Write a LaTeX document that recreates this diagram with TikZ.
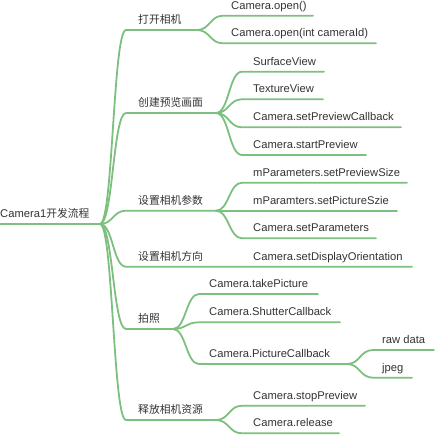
\documentclass[tikz,border=0pt]{standalone}
\usepackage{fontspec}
\setmainfont{Liberation Sans}
\newfontfamily\cjk{Noto Sans CJK SC}
\usetikzlibrary{calc}
\definecolor{branch}{HTML}{7CC07F}
\definecolor{ink}{HTML}{333333}
\newcommand\brn[2]{\draw[ln] (#1) .. controls ($(#1)+(13,0)$) and ($(#1 |- #2)+(13,0)$) .. ($(#1 |- #2)+(26,0)$) -- (#2);}
\begin{document}
\begin{tikzpicture}[x=1pt,y=-1pt,
  ln/.style={draw=branch,line width=1.8pt,line cap=round},
  lbl/.style={anchor=base west,inner sep=0pt,text=ink,font=\fontsize{11.2}{13}\selectfont},
  zh/.style={lbl,font=\cjk\fontsize{10.8}{13}\selectfont}]
\useasboundingbox (0,0) rectangle (445,448);
% root
\node[lbl] (root) at (0,217) {Camera1{\cjk\fontsize{10.8}{13}\selectfont 开发流程}};
\coordinate (r0) at (0,224);
\coordinate (r) at (100,224);
\draw[ln] (r0) -- (r);
% level 1
\node[zh] (n1) at (138,23.5) {打开相机};
\node[zh] (n2) at (138,106.5) {创建预览画面};
\node[zh] (n3) at (138,204.2) {设置相机参数};
\node[zh] (n4) at (138,260.2) {设置相机方向};
\node[zh] (n5) at (138,322.5) {拍照};
\node[zh] (n6) at (138,413.5) {释放相机资源};
\coordinate (f1) at (197,30);
\coordinate (f2) at (216,113);
\coordinate (f3) at (216,210.7);
\coordinate (f4) at (412,266.7);
\coordinate (f5) at (173,329);
\coordinate (f6) at (216,420);
\brn{r}{f1}
\brn{r}{f2}
\brn{r}{f3}
\brn{r}{f4}
\brn{r}{f5}
\brn{r}{f6}
% 打开相机
\node[lbl] (m11) at (231,9.2) {Camera.open()};
\node[lbl] (m12) at (231,36.8) {Camera.open(int cameraId)};
\coordinate (e11) at (313,15.7);
\coordinate (e12) at (376,43.3);
\brn{f1}{e11}
\brn{f1}{e12}
% 创建预览画面
\node[lbl] (m21) at (253,65.2) {SurfaceView};
\node[lbl] (m22) at (253,92.8) {TextureView};
\node[lbl] (m23) at (253,120.8) {Camera.setPreviewCallback};
\node[lbl] (m24) at (253,148.5) {Camera.startPreview};
\coordinate (e21) at (324,71.7);
\coordinate (e22) at (323,99.3);
\coordinate (e23) at (401,127.3);
\coordinate (e24) at (366,155);
\brn{f2}{e21}
\brn{f2}{e22}
\brn{f2}{e23}
\brn{f2}{e24}
% 设置相机参数
\node[lbl] (m31) at (253,176.2) {mParameters.setPreviewSize};
\node[lbl] (m32) at (253,204.2) {mParamters.setPictureSzie};
\node[lbl] (m33) at (253,231.8) {Camera.setParameters};
\coordinate (e31) at (407,182.7);
\coordinate (e32) at (397,210.7);
\coordinate (e33) at (376,238.3);
\brn{f3}{e31}
\brn{f3}{e32}
\brn{f3}{e33}
% 设置相机方向
\node[lbl] (m41) at (253,260.2) {Camera.setDisplayOrientation};
% 拍照
\node[lbl] (m51) at (209,287.5) {Camera.takePicture};
\node[lbl] (m52) at (209,315.8) {Camera.ShutterCallback};
\node[lbl] (m53) at (209,357.5) {Camera.PictureCallback};
\coordinate (e51) at (318,294);
\coordinate (e52) at (340,322.3);
\coordinate (pc) at (347,364);
\brn{f5}{e51}
\brn{f5}{e52}
\brn{f5}{pc}
\node[lbl] (m531) at (382,343.5) {raw data};
\node[lbl] (m532) at (382,371.2) {jpeg};
\coordinate (e531) at (434,350);
\coordinate (e532) at (412,377.7);
\brn{pc}{e531}
\brn{pc}{e532}
% 释放相机资源
\node[lbl] (m61) at (253,399.2) {Camera.stopPreview};
\node[lbl] (m62) at (253,426.8) {Camera.release};
\coordinate (e61) at (365,405.7);
\coordinate (e62) at (339,433.3);
\brn{f6}{e61}
\brn{f6}{e62}
\end{tikzpicture}
\end{document}
